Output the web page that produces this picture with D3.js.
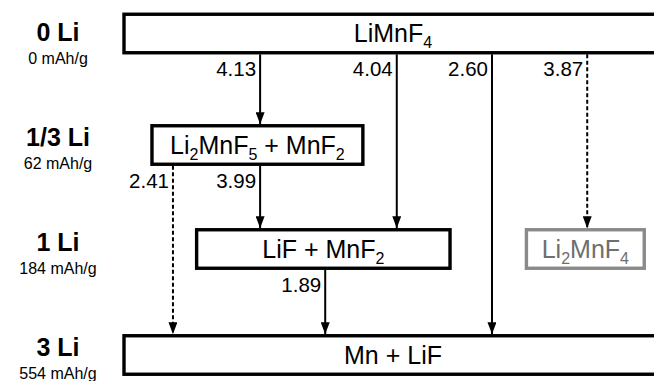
<!DOCTYPE html>
<html>
<head>
<meta charset="utf-8">
<script src="https://cdn.jsdelivr.net/npm/d3@7"></script>
<style>
  html, body { margin: 0; padding: 0; background: #fff; }
  svg { display: block; font-family: "Liberation Sans", Arial, sans-serif; }
</style>
</head>
<body>
<svg width="654" height="381"></svg>
<script>
// levels of lithiation (rows)
const levels = ['0 Li', '1/3 Li', '1 Li', '3 Li'];
const capacities = ['0 mAh/g', '62 mAh/g', '184 mAh/g', '554 mAh/g'];

// phases (boxes), "_" marks a subscript digit
const phases = ['LiMnF_4', 'Li_2MnF_5 + MnF_2', 'LiF + MnF_2', 'Li_2MnF_4', 'Mn + LiF'];
const phaseLevel = ['0 Li', '1/3 Li', '1 Li', '1 Li', '3 Li'];
const phaseGrey = [false, false, false, true, false];

// reactions (arrows)
const transFrom = [0, 0, 0, 0, 1, 1, 2];
const transTo = [1, 2, 4, 3, 4, 2, 4];
const voltages = ['4.13', '4.04', '2.60', '3.87', '2.41', '3.99', '1.89'];
const transDashed = [false, false, false, true, true, false, false];

// layout, in columns of the widest box (0..100)
const boxCols = [[0, 100], [5.2, 44.4], [13.5, 60.6], [74.8, 96.7], [0, 100]];
const arrowCols = [25.3, 50.7, 68.4, 86.1, 9.1, 25.3, 37.4];

const BOX_H = 38.5;
const x = d3.scaleLinear().domain([0, 100]).range([124, 662]);
const y = d3.scaleOrdinal(levels, [33.5, 145, 249, 355]);
const yLabel = d3.scalePoint(levels, [40.5, 356]);

const svg = d3.select('svg');

svg.append('defs').append('marker')
    .attr('id', 'head')
    .attr('viewBox', '0 0 10 10')
    .attr('refX', 10).attr('refY', 5)
    .attr('markerWidth', 12).attr('markerHeight', 9)
    .attr('markerUnits', 'userSpaceOnUse')
    .attr('orient', 'auto')
    .attr('preserveAspectRatio', 'none')
  .append('path')
    .attr('d', 'M0,0 L10,5 L0,10 Z')
    .attr('fill', '#000');

// row labels on the left
const rows = svg.append('g').attr('text-anchor', 'middle');
rows.selectAll('.lvl')
    .data(levels)
    .enter()
    .append('text')
    .classed('lvl', true)
    .attr('x', 58)
    .attr('y', d => yLabel(d))
    .attr('font-size', 25)
    .attr('font-weight', 'bold')
    .text(d => d);
rows.selectAll('.cap')
    .data(capacities)
    .enter()
    .append('text')
    .classed('cap', true)
    .attr('x', 58)
    .attr('y', (d, i) => yLabel(levels[i]) + 23)
    .attr('font-size', 16)
    .text(d => d);

// write a formula with subscripts
function formula(sel, str) {
    const parts = str.split(/_(\d)/);
    parts.forEach((p, i) => {
        if (p === '') return;
        if (i % 2 === 1) {
            sel.append('tspan').attr('font-size', 16).attr('dy', 6).text(p);
        } else {
            sel.append('tspan').attr('dy', i > 0 ? -6 : 0).text(p);
        }
    });
}

// arrows
const arrows = svg.append('g');
transFrom.forEach((f, i) => {
    const t = transTo[i];
    const ax = x(arrowCols[i]);
    const y0 = y(phaseLevel[f]) + BOX_H / 2 + 1.6;
    const y1 = y(phaseLevel[t]) - BOX_H / 2 - 1.6;
    arrows.append('line')
        .attr('x1', ax).attr('x2', ax)
        .attr('y1', y0).attr('y2', y1)
        .attr('stroke', '#000')
        .attr('stroke-width', 2)
        .attr('stroke-dasharray', transDashed[i] ? '4,2.5' : null)
        .attr('marker-end', 'url(#head)');
    arrows.append('text')
        .attr('x', ax - 4)
        .attr('y', y0 + 22)
        .attr('text-anchor', 'end')
        .attr('font-size', 20.5)
        .text(voltages[i]);
});

// phase boxes
const boxes = svg.append('g');
phases.forEach((p, i) => {
    const cy = y(phaseLevel[i]);
    const x0 = x(boxCols[i][0]), x1 = x(boxCols[i][1]);
    const col = phaseGrey[i] ? '#8a8a8a' : '#000';
    boxes.append('rect')
        .attr('x', x0).attr('y', cy - BOX_H / 2)
        .attr('width', x1 - x0).attr('height', BOX_H)
        .attr('fill', '#fff')
        .attr('stroke', col)
        .attr('stroke-width', 3.4);
    const txt = boxes.append('text')
        .attr('x', (x0 + x1) / 2)
        .attr('y', cy + 8.5)
        .attr('text-anchor', 'middle')
        .attr('font-size', 25)
        .attr('fill', phaseGrey[i] ? '#6e6e6e' : '#000');
    formula(txt, p);
});
</script>
</body>
</html>
